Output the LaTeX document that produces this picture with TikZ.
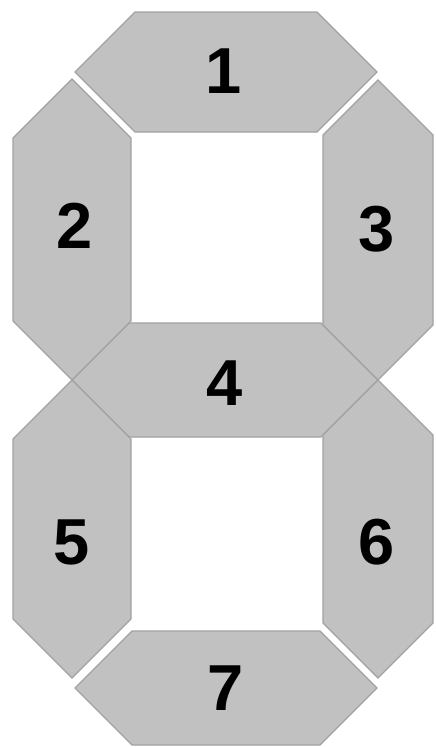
\documentclass[tikz,border=0pt]{standalone}
\usepackage{fontspec}
\setmainfont{Liberation Sans}
\usetikzlibrary{calc}
\definecolor{segfill}{HTML}{C1C1C1}
\definecolor{segedge}{HTML}{A2A2A2}

\begin{document}
\begin{tikzpicture}[x=0.02cm,y=-0.02cm,
    segment/.style={fill=segfill,draw=segedge,line width=0.7pt,line join=miter},
    seglabel/.style={font=\fontsize{37}{37}\selectfont\bfseries,inner sep=0pt}]
  \useasboundingbox (0,0) rectangle (436,747);
  % horizontal bars: left tip / right tip / middle / half height
  \foreach \lx/\rx/\yc/\hh in {75/377/72/60, 72/378/380/57, 75/377/688/57} {
    \draw[segment] (\lx,\yc) -- (\lx+\hh,\yc-\hh) -- (\rx-\hh,\yc-\hh) -- (\rx,\yc)
      -- (\rx-\hh,\yc+\hh) -- (\lx+\hh,\yc+\hh) -- cycle;
  }
  % vertical bars: middle / top tip / bottom tip / half width
  \foreach \cx/\ty/\by/\hh in {72/79/380/59, 378/80/380/55, 72/380/678/59, 378/380/678/55} {
    \draw[segment] (\cx,\ty) -- (\cx+\hh,\ty+\hh) -- (\cx+\hh,\by-\hh) -- (\cx,\by)
      -- (\cx-\hh,\by-\hh) -- (\cx-\hh,\ty+\hh) -- cycle;
  }
  % segment numbers
  \foreach \snum/\sx/\sy in {1/224/71, 2/75/226, 3/377/229, 4/225/383, 5/72/542, 6/377/542, 7/226/688} {
    \node[seglabel] (lab\snum) at (\sx,\sy) {\snum};
  }
\end{tikzpicture}
\end{document}
